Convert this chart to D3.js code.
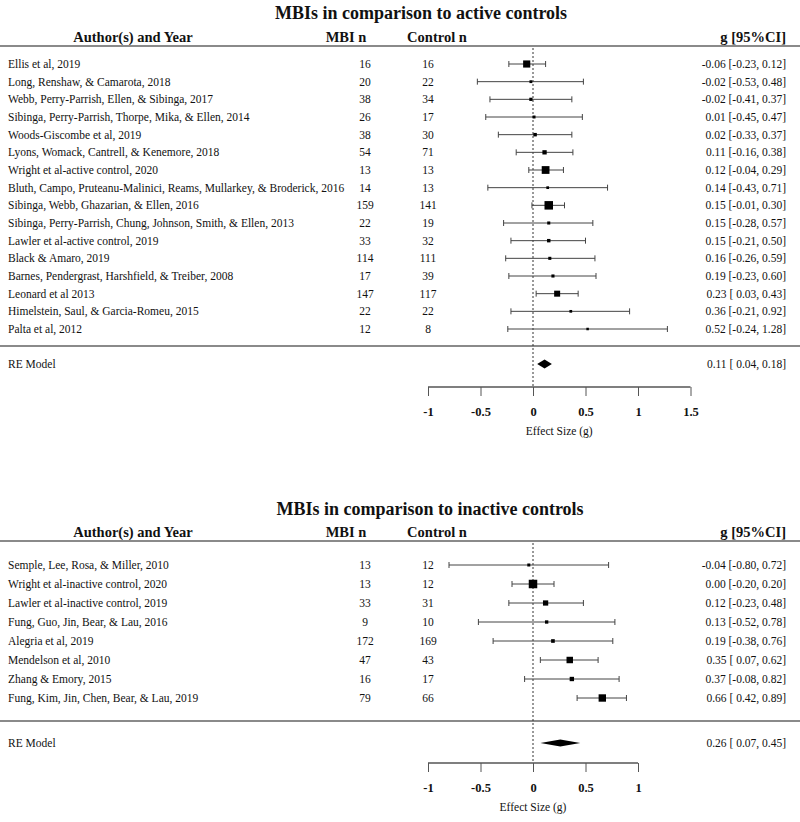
<!DOCTYPE html>
<html>
<head>
<meta charset="utf-8">
<script src="https://cdn.jsdelivr.net/npm/d3@7"></script>
<style>
  html, body { margin: 0; padding: 0; background: #fff; }
  svg { display: block; }
  text { font-family: "Liberation Serif", "DejaVu Serif", serif; fill: #111; }
</style>
</head>
<body>
<svg id="chart" width="800" height="822"></svg>
<script>
// ---------- Data: active controls ----------
const activeStudies = [
  "Ellis et al, 2019",
  "Long, Renshaw, & Camarota, 2018",
  "Webb, Perry-Parrish, Ellen, & Sibinga, 2017",
  "Sibinga, Perry-Parrish, Thorpe, Mika, & Ellen, 2014",
  "Woods-Giscombe et al, 2019",
  "Lyons, Womack, Cantrell, & Kenemore, 2018",
  "Wright et al-active control, 2020",
  "Bluth, Campo, Pruteanu-Malinici, Reams, Mullarkey, & Broderick, 2016",
  "Sibinga, Webb, Ghazarian, & Ellen, 2016",
  "Sibinga, Perry-Parrish, Chung, Johnson, Smith, & Ellen, 2013",
  "Lawler et al-active control, 2019",
  "Black & Amaro, 2019",
  "Barnes, Pendergrast, Harshfield, & Treiber, 2008",
  "Leonard et al 2013",
  "Himelstein, Saul, & Garcia-Romeu, 2015",
  "Palta et al, 2012"
];
const activeMBI  = [16, 20, 38, 26, 38, 54, 13, 14, 159, 22, 33, 114, 17, 147, 22, 12];
const activeCtrl = [16, 22, 34, 17, 30, 71, 13, 13, 141, 19, 32, 111, 39, 117, 22, 8];
const activeG    = [-0.06, -0.02, -0.02, 0.01, 0.02, 0.11, 0.12, 0.14, 0.15, 0.15, 0.15, 0.16, 0.19, 0.23, 0.36, 0.52];
const activeLo   = [-0.23, -0.53, -0.41, -0.45, -0.33, -0.16, -0.04, -0.43, -0.01, -0.28, -0.21, -0.26, -0.23, 0.03, -0.21, -0.24];
const activeHi   = [0.12, 0.48, 0.37, 0.47, 0.37, 0.38, 0.29, 0.71, 0.30, 0.57, 0.50, 0.59, 0.60, 0.43, 0.92, 1.28];
const activeRE   = [0.11, 0.04, 0.18];
const activeTicks = [-1, -0.5, 0, 0.5, 1, 1.5];

// ---------- Data: inactive controls ----------
const inactiveStudies = [
  "Semple, Lee, Rosa, & Miller, 2010",
  "Wright et al-inactive control, 2020",
  "Lawler et al-inactive control, 2019",
  "Fung, Guo, Jin, Bear, & Lau, 2016",
  "Alegria et al, 2019",
  "Mendelson et al, 2010",
  "Zhang & Emory, 2015",
  "Fung, Kim, Jin, Chen, Bear, & Lau, 2019"
];
const inactiveMBI  = [13, 13, 33, 9, 172, 47, 16, 79];
const inactiveCtrl = [12, 12, 31, 10, 169, 43, 17, 66];
const inactiveG    = [-0.04, 0.00, 0.12, 0.13, 0.19, 0.35, 0.37, 0.66];
const inactiveLo   = [-0.80, -0.20, -0.23, -0.52, -0.38, 0.07, -0.08, 0.42];
const inactiveHi   = [0.72, 0.20, 0.48, 0.78, 0.76, 0.62, 0.82, 0.89];
const inactiveRE   = [0.26, 0.07, 0.45];
const inactiveTicks = [-1, -0.5, 0, 0.5, 1];

const headers = ["Author(s) and Year", "MBI n", "Control n", "g [95%CI]"];

const svg = d3.select("#chart");

function fmt(v) { return v.toFixed(2); }
function fmtLo(v) { return (v >= 0 ? " " : "") + v.toFixed(2); }
function ciText(g, lo, hi) { return fmt(g) + " [" + fmtLo(lo) + ", " + fmt(hi) + "]"; }

function drawPanel(p) {
  const g = svg.append("g");
  const x = d3.scaleLinear().domain([-1, 1.5]).range([428, 690.5]);
  const n = p.studies.length;
  const y = d3.scaleLinear().domain([0, n - 1]).range([p.rowTop, p.rowBottom]);

  // title
  g.append("text").attr("x", p.titleX).attr("y", p.titleY)
    .attr("text-anchor", "middle").style("font-size", "18px").style("font-weight", "bold")
    .text(p.title);

  // headers
  const hx = [133, 346, 437, 786];
  const ha = ["middle", "middle", "middle", "end"];
  headers.forEach((h, i) => {
    g.append("text").attr("x", hx[i]).attr("y", p.headerY)
      .attr("text-anchor", ha[i]).style("font-size", "14.5px").style("font-weight", "bold")
      .text(h);
  });

  // rules
  [p.lineY, p.sepY].forEach(ly => {
    g.append("line").attr("x1", 0).attr("x2", 800).attr("y1", ly).attr("y2", ly)
      .attr("stroke", "#8a8a8a").attr("stroke-width", 2);
  });

  // zero reference line
  g.append("line").attr("x1", x(0)).attr("x2", x(0)).attr("y1", p.lineY + 2).attr("y2", p.axisY)
    .attr("stroke", "#333").attr("stroke-width", 1).attr("stroke-dasharray", "2,2");

  // rows text
  const rows = g.selectAll("g.row").data(p.studies.map((s, i) => ({
    s, mbi: p.mbi[i], ctrl: p.ctrl[i], g: p.g[i], lo: p.lo[i], hi: p.hi[i], i
  }))).join("g").attr("class", "row");

  const fs = "11.5px";
  rows.append("text").attr("x", 8).attr("y", d => y(d.i) + 4).style("font-size", fs).text(d => d.s);
  rows.append("text").attr("x", 365).attr("y", d => y(d.i) + 4).attr("text-anchor", "middle").style("font-size", fs).text(d => d.mbi);
  rows.append("text").attr("x", 428).attr("y", d => y(d.i) + 4).attr("text-anchor", "middle").style("font-size", fs).text(d => d.ctrl);
  rows.append("text").attr("x", 786).attr("y", d => y(d.i) + 4).attr("text-anchor", "end").style("font-size", fs)
    .style("white-space", "pre").attr("xml:space", "preserve").text(d => ciText(d.g, d.lo, d.hi));

  // CI lines
  rows.append("line").attr("x1", d => x(d.lo)).attr("x2", d => x(d.hi))
    .attr("y1", d => y(d.i)).attr("y2", d => y(d.i)).attr("stroke", "#444").attr("stroke-width", 1);
  rows.append("line").attr("x1", d => x(d.lo)).attr("x2", d => x(d.lo))
    .attr("y1", d => y(d.i) - 3).attr("y2", d => y(d.i) + 3).attr("stroke", "#444");
  rows.append("line").attr("x1", d => x(d.hi)).attr("x2", d => x(d.hi))
    .attr("y1", d => y(d.i) - 3).attr("y2", d => y(d.i) + 3).attr("stroke", "#444");

  // squares sized by study weight
  const prec = p.lo.map((lo, i) => Math.pow(3.92 / (p.hi[i] - lo), p.sizeExp));
  const sz = d3.scaleLinear().domain(d3.extent(prec)).range(p.sizeRange);
  rows.append("rect")
    .attr("x", d => x(d.g) - sz(prec[d.i]) / 2).attr("y", d => y(d.i) - sz(prec[d.i]) / 2)
    .attr("width", d => sz(prec[d.i])).attr("height", d => sz(prec[d.i])).attr("fill", "#000");

  // RE model
  g.append("text").attr("x", 8).attr("y", p.reY + 4).style("font-size", fs).text("RE Model");
  g.append("text").attr("x", 786).attr("y", p.reY + 4).attr("text-anchor", "end").style("font-size", fs)
    .attr("xml:space", "preserve").style("white-space", "pre")
    .text(ciText(p.re[0], p.re[1], p.re[2]));
  const dh = p.diamondH;
  g.append("path").attr("d", d3.line()([
    [x(p.re[1]), p.reY], [x(p.re[0]), p.reY - dh], [x(p.re[2]), p.reY], [x(p.re[0]), p.reY + dh]
  ]) + "Z").attr("fill", "#000");

  // axis
  const axis = d3.axisBottom(x).tickValues(p.ticks).tickSize(9)
    .tickFormat(d => String(d));
  const ag = g.append("g").attr("transform", `translate(0,${p.axisY})`).call(axis);
  ag.select(".domain").attr("d", `M${x(p.ticks[0])},0H${x(p.ticks[p.ticks.length - 1])}`)
    .attr("stroke", "#555").attr("stroke-width", 1.5);
  ag.selectAll(".tick line").attr("stroke", "#555");
  ag.selectAll(".tick text").attr("y", 20).style("font-size", "12.5px").style("font-weight", "bold")
    .style("font-family", "'Liberation Serif', serif").attr("fill", "#111");
  g.append("text").attr("x", x((p.ticks[0] + p.ticks[p.ticks.length - 1]) / 2)).attr("y", p.axisY + 48)
    .attr("text-anchor", "middle").style("font-size", "11.5px").text("Effect Size (g)");
}

drawPanel({
  title: "MBIs in comparison to active controls", titleX: 421, titleY: 19, headerY: 42, lineY: 46,
  studies: activeStudies, mbi: activeMBI, ctrl: activeCtrl, g: activeG, lo: activeLo, hi: activeHi,
  rowTop: 64, rowBottom: 329, sepY: 346, reY: 364, re: activeRE, diamondH: 4.5,
  axisY: 387, ticks: activeTicks, sizeRange: [2.5, 8.5], sizeExp: 2
});

drawPanel({
  title: "MBIs in comparison to inactive controls", titleX: 430, titleY: 515, headerY: 537, lineY: 541,
  studies: inactiveStudies, mbi: inactiveMBI, ctrl: inactiveCtrl, g: inactiveG, lo: inactiveLo, hi: inactiveHi,
  rowTop: 565, rowBottom: 698, sepY: 721, reY: 743, re: inactiveRE, diamondH: 3.5,
  axisY: 763, ticks: inactiveTicks, sizeRange: [3, 8.5], sizeExp: 1
});
</script>
</body>
</html>
